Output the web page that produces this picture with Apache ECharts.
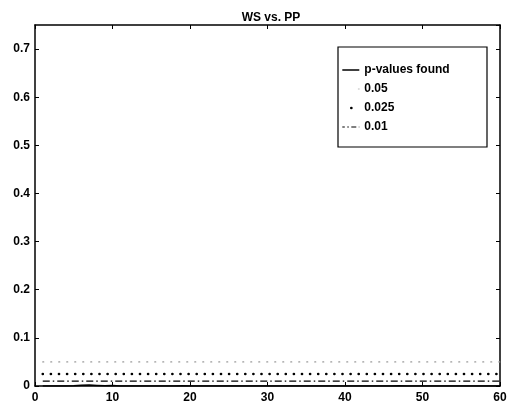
<!DOCTYPE html>
<html>
<head>
<meta charset="utf-8">
<script src="https://cdn.jsdelivr.net/npm/echarts@6/dist/echarts.min.js"></script>
<style>
  html, body { margin: 0; padding: 0; background: #fff; }
  #chart { width: 523px; height: 408px; }
</style>
</head>
<body>
<div id="chart"></div>
<script>
// Run index (x) and p-values found for WS vs. PP
const runs = [1,2,3,4,5,6,7,8,9,10,11,12,13,14,15,16,17,18,19,20,21,22,23,24,25,26,27,28,29,30,
              31,32,33,34,35,36,37,38,39,40,41,42,43,44,45,46,47,48,49,50,51,52,53,54,55,56,57,58,59,60];
const pValues = [0,0,0,0,0.0005,0.0015,0.002,0.0012,0.0004,0.001,0,0,0,0,0,0,0,0,0.0003,0,
                 0,0,0,0,0,0,0,0,0,0,0,0,0,0,0,0,0,0,0.0002,0,
                 0,0,0,0,0,0,0.0003,0,0,0,0,0,0,0,0,0,0,0,0,0];
// Significance thresholds drawn as horizontal reference lines
const thresholdNames = ['0.05', '0.025', '0.01'];
const thresholdValues = [0.05, 0.025, 0.01];
const thresholdSpan = [1, 60];
const yTicks = [0, 0.1, 0.2, 0.3, 0.4, 0.5, 0.6, 0.7];
const xTicks = [0, 10, 20, 30, 40, 50, 60];

const font = 'Liberation Sans, Arial, Helvetica, sans-serif';
const chart = echarts.init(document.getElementById('chart'));

const thresholdStyles = [
  { color: '#9a9a9a', width: 1.2, type: [1, 7], cap: 'round' },
  { color: '#000', width: 2.6, type: [0.1, 8], cap: 'round' },
  { color: '#000', width: 1.2, type: [7, 3, 1.5, 3], cap: 'butt' }
];
// legend samples: the sparse grey dots vanish, the dotted one shows a single dot
const legendLineStyles = [
  { color: '#000', width: 1.5, type: 'solid' },
  { color: '#bbb', width: 1, type: [1, 30], cap: 'round', dashOffset: -16 },
  { color: '#000', width: 2.6, type: [0.1, 30], cap: 'round', dashOffset: -9 },
  { color: '#000', width: 1.2, type: [5, 2.5, 1.5, 2.5], cap: 'butt' }
];

const series = [{
  name: 'p-values found',
  type: 'line',
  data: runs.map((r, i) => [r, pValues[i]]),
  symbol: 'none',
  lineStyle: { color: '#000', width: 1.5 },
  itemStyle: { color: '#000' },
  z: 5
}];
thresholdNames.forEach((n, k) => {
  series.push({
    name: n,
    type: 'line',
    data: thresholdSpan.map(x => [x, thresholdValues[k]]),
    symbol: 'none',
    lineStyle: thresholdStyles[k],
    itemStyle: { color: thresholdStyles[k].color },
    z: 3
  });
});

const legendNames = ['p-values found'].concat(thresholdNames);

const axisLine = { show: true, onZero: false, lineStyle: { color: '#000', width: 1.5 } };
const tick = { show: true, inside: true, length: 4, lineStyle: { color: '#000', width: 1 } };
const label = { color: '#000', fontFamily: font, fontWeight: 'bold', fontSize: 12 };

chart.setOption({
  animation: false,
  backgroundColor: '#fff',
  title: {
    text: 'WS vs. PP',
    left: 266, top: 7, textAlign: 'center',
    textStyle: { fontFamily: font, fontWeight: 'bold', fontSize: 12, color: '#000' }
  },
  grid: { left: 35, right: 23, top: 25, bottom: 22, show: false },
  graphic: [{
    type: 'rect',
    shape: { x: 338, y: 47, width: 149, height: 100 },
    style: { fill: '#fff', stroke: '#000', lineWidth: 1.2 },
    z: 10
  }],
  legend: {
    left: 341, top: 64, orient: 'vertical',
    padding: 0,
    itemGap: 7,
    itemWidth: 17, itemHeight: 12,
    itemStyle: { opacity: 0 },
    textStyle: { fontFamily: font, fontWeight: 'bold', fontSize: 12, color: '#000' },
    z: 20,
    data: legendNames.map((n, i) => ({ name: n, lineStyle: legendLineStyles[i] }))
  },
  xAxis: [{
    type: 'value', min: 0, max: 60, interval: 10,
    axisLine, axisTick: tick, splitLine: { show: false },
    axisLabel: Object.assign({ margin: 6, formatter: v => xTicks.includes(v) ? String(v) : '' }, label)
  }, {
    type: 'value', position: 'top', min: 0, max: 60, interval: 10,
    axisLine, axisTick: tick, axisLabel: { show: false }, splitLine: { show: false }
  }],
  yAxis: [{
    type: 'value', min: 0, max: 0.75, interval: 0.1,
    axisLine, axisTick: tick, splitLine: { show: false },
    axisLabel: Object.assign({
      margin: 5, showMaxLabel: false,
      formatter: v => {
        const t = yTicks.find(y => Math.abs(y - v) < 1e-9);
        return t === undefined ? '' : String(t);
      }
    }, label)
  }, {
    type: 'value', position: 'right', min: 0, max: 0.75, interval: 0.1,
    axisLine, axisTick: tick, axisLabel: { show: false }, splitLine: { show: false }
  }],
  series
});
</script>
</body>
</html>
